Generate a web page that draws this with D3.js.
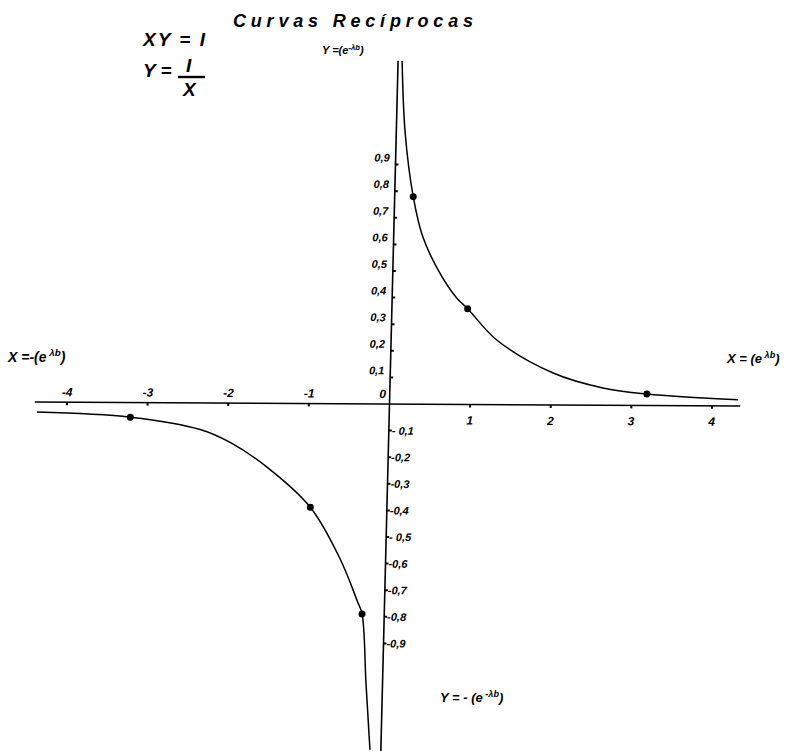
<!DOCTYPE html>
<html><head><meta charset="utf-8">
<script src="https://cdn.jsdelivr.net/npm/d3@7"></script>
<style>
html,body{margin:0;padding:0;background:#fff;}
svg text{font-family:"Liberation Sans",Arial,sans-serif;font-weight:bold;font-style:italic;fill:#000;}
</style></head>
<body>
<svg id="chart" width="789" height="751"></svg>
<script>
// ---- data ----
const title = "Curvas Recíprocas";
const xTicks = [-4, -3, -2, -1, 1, 2, 3, 4];
const xTickLabels = ["-4", "-3", "-2", "-1", "1", "2", "3", "4"];
const yTicksPos = [0.1, 0.2, 0.3, 0.4, 0.5, 0.6, 0.7, 0.8, 0.9];
const yTickLabelsPos = ["0,1", "0,2", "0,3", "0,4", "0,5", "0,6", "0,7", "0,8", "0,9"];
const yTicksNeg = [-0.1, -0.2, -0.3, -0.4, -0.5, -0.6, -0.7, -0.8, -0.9];
const yTickLabelsNeg = ["- 0,1", "-0,2", "-0,3", "-0,4", "- 0,5", "-0,6", "-0,7", "-0,8", "-0,9"];
// upper branch
const upperX = [0.05, 0.11, 0.23, 0.36, 0.59, 0.80, 0.94, 1.31, 2.02, 2.64, 3.19, 4.32];
const upperY = [1.29, 1.02, 0.78, 0.63, 0.49, 0.40, 0.36, 0.243, 0.12, 0.065, 0.043, 0.023];
// lower branch
const lowerX = [-4.37, -3.21, -2.34, -1.97, -1.50, -0.95, -0.57, -0.34, -0.275, -0.205, -0.135];
const lowerY = [-0.038, -0.055, -0.10, -0.147, -0.24, -0.39, -0.58, -0.74, -0.79, -1.05, -1.30];
// plotted points (dots)
const dotX = [0.23, 0.94, 3.19, -0.275, -0.95, -3.21];
const dotY = [0.78, 0.36, 0.043, -0.79, -0.39, -0.055];
const xAxisExtent = [-4.40, 4.35];
const yAxisExtent = [-1.31, 1.29];

// ---- scales ----
const x = d3.scaleLinear().domain([-4, 4]).range([67, 712]);
const y = d3.scaleLinear().domain([-1, 1]).range([404 + 266, 404 - 266]);
const x0 = x(0), y0 = y(0);
const kx = -0.025, ky = 0.0057; // slight skew of the hand-drawn axes

const svg = d3.select("#chart");
svg.append("rect").attr("width", 789).attr("height", 751).attr("fill", "#fff");

// title & formulas
svg.append("text").attr("x", 233).attr("y", 27).attr("font-size", 18)
  .attr("textLength", 240).attr("lengthAdjust", "spacing").text(title);
svg.append("text").attr("x", 143).attr("y", 46).attr("font-size", 19)
  .attr("textLength", 62).attr("lengthAdjust", "spacing").text("XY = I");
svg.append("text").attr("x", 143).attr("y", 77).attr("font-size", 19).text("Y =");
svg.append("text").attr("x", 186).attr("y", 72).attr("font-size", 19).text("I");
svg.append("line").attr("x1", 178).attr("x2", 205).attr("y1", 77).attr("y2", 77)
  .attr("stroke", "#000").attr("stroke-width", 2.4);
svg.append("text").attr("x", 183).attr("y", 96).attr("font-size", 19).text("X");

const g = svg.append("g")
  .attr("transform", `matrix(1,${ky},${kx},1,${-kx * y0},${-ky * x0})`);

// axes
g.append("line").attr("x1", x(xAxisExtent[0])).attr("x2", x(xAxisExtent[1]))
  .attr("y1", y0).attr("y2", y0).attr("stroke", "#000").attr("stroke-width", 1.6);
g.append("line").attr("x1", x0).attr("x2", x0)
  .attr("y1", y(yAxisExtent[1])).attr("y2", y(yAxisExtent[0]))
  .attr("stroke", "#000").attr("stroke-width", 1.6);

// x ticks
g.selectAll(".xt").data(xTicks).join("line")
  .attr("x1", d => x(d)).attr("x2", d => x(d)).attr("y1", y0).attr("y2", y0 + 3)
  .attr("stroke", "#000").attr("stroke-width", 2);
g.selectAll(".xl").data(xTicks).join("text")
  .attr("x", d => x(d)).attr("y", d => d < 0 ? y0 - 6 : y0 + 20)
  .attr("text-anchor", "middle").attr("font-size", 12)
  .text((d, i) => xTickLabels[i]);
g.append("text").attr("x", x0 - 7).attr("y", y0 - 6).attr("font-size", 12)
  .attr("text-anchor", "middle").text("0");

// y ticks
g.selectAll(".ytp").data(yTicksPos.concat(yTicksNeg)).join("line")
  .attr("x1", x0).attr("x2", x0 + 3).attr("y1", d => y(d)).attr("y2", d => y(d))
  .attr("stroke", "#000").attr("stroke-width", 2);
g.selectAll(".ylp").data(yTicksPos).join("text")
  .attr("x", x0 - 6).attr("y", d => y(d) - 3)
  .attr("text-anchor", "end").attr("font-size", 11)
  .text((d, i) => yTickLabelsPos[i]);
g.selectAll(".yln").data(yTicksNeg).join("text")
  .attr("x", x0 + 3).attr("y", d => y(d) + 4)
  .attr("text-anchor", "start").attr("font-size", 11)
  .text((d, i) => yTickLabelsNeg[i]);

// curves
const line = d3.line().x(d => x(d[0])).y(d => y(d[1])).curve(d3.curveCatmullRom.alpha(0.5));
g.append("path").datum(upperX.map((v, i) => [v, upperY[i]])).attr("d", line)
  .attr("fill", "none").attr("stroke", "#000").attr("stroke-width", 1.5);
g.append("path").datum(lowerX.map((v, i) => [v, lowerY[i]])).attr("d", line)
  .attr("fill", "none").attr("stroke", "#000").attr("stroke-width", 1.5);
g.selectAll(".dot").data(dotX.map((v, i) => [v, dotY[i]])).join("circle")
  .attr("cx", d => x(d[0])).attr("cy", d => y(d[1])).attr("r", 3.5).attr("fill", "#000");

// axis names
function axisName(tx, ty, pre, sup, post, fs) {
  const t = svg.append("text").attr("x", tx).attr("y", ty).attr("font-size", fs);
  t.append("tspan").text(pre);
  t.append("tspan").attr("dy", -fs * 0.4).attr("font-size", fs * 0.7).text(sup);
  t.append("tspan").attr("dy", fs * 0.4).text(post);
}
axisName(8, 362, "X =-(e", " λb", ")", 14);
axisName(727, 363, "X = (e", " λb", ")", 13);
axisName(322, 54, "Y =(e", "-λb", ")", 11);
axisName(440, 702, "Y = - (e", " -λb", ")", 13);
</script>
</body></html>
